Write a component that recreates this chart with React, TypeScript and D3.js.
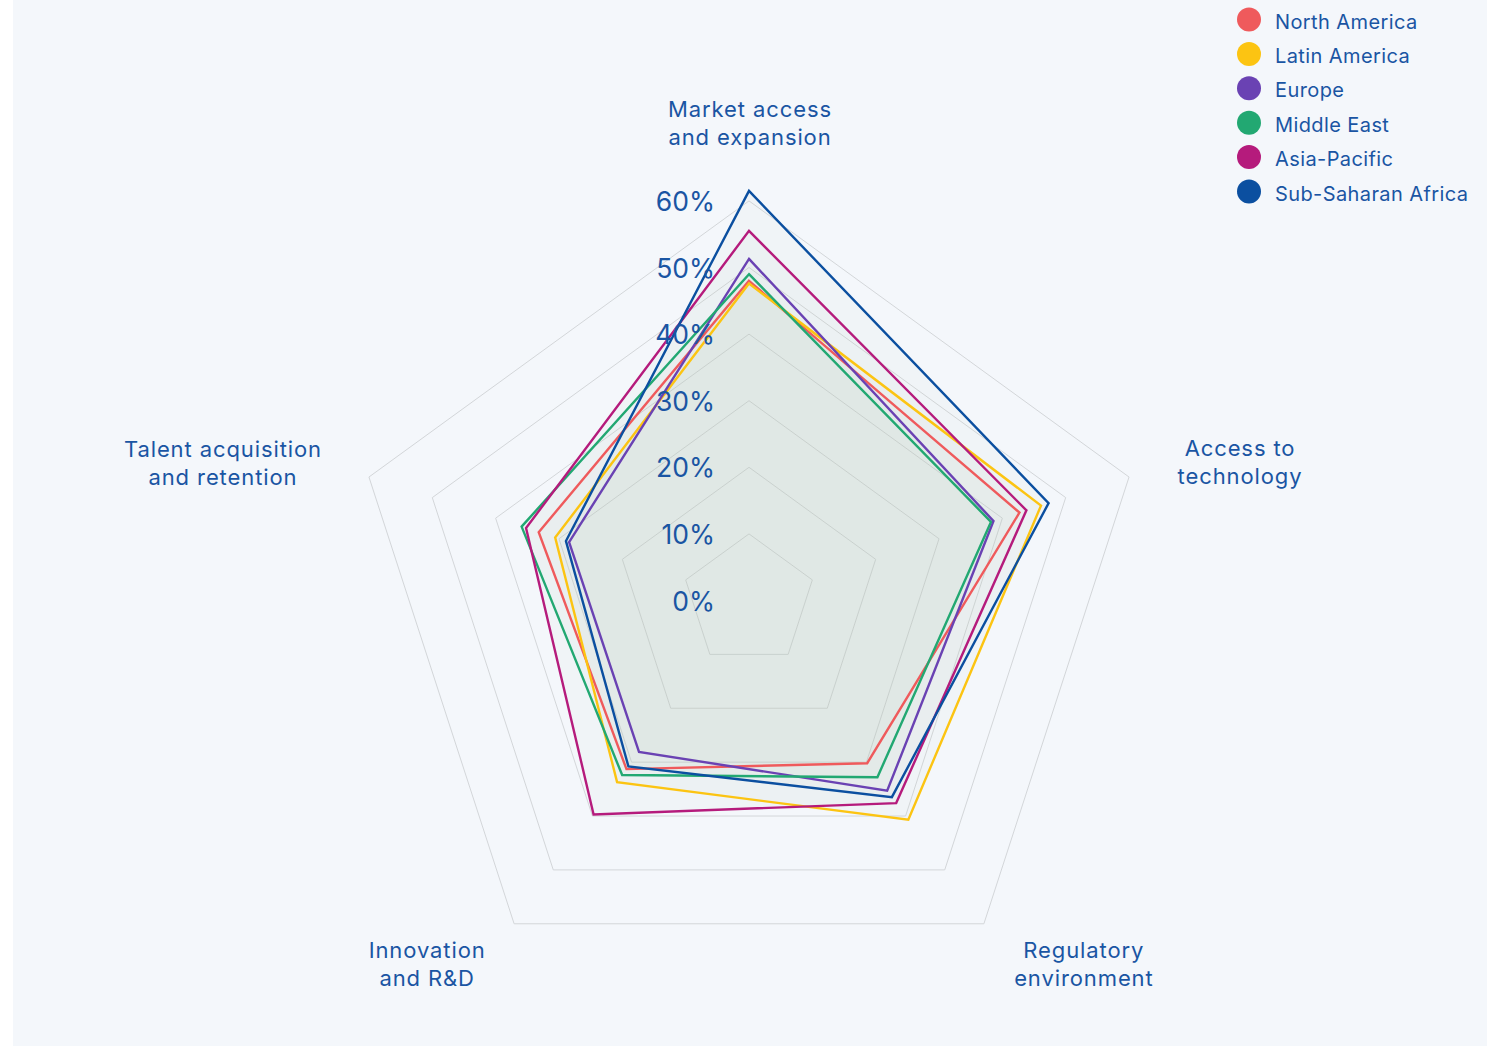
import React from "react";
import * as d3 from "d3";

const axes = [
  ["Market access", "and expansion"],
  ["Access to", "technology"],
  ["Regulatory", "environment"],
  ["Innovation", "and R&D"],
  ["Talent acquisition", "and retention"],
];

const seriesNames = [
  "North America",
  "Latin America",
  "Europe",
  "Middle East",
  "Asia-Pacific",
  "Sub-Saharan Africa",
];

const northAmerica = [48.0, 42.7, 30.2, 31.3, 33.2];
const latinAmerica = [47.6, 46.1, 40.7, 33.7, 30.6];
const europe = [51.3, 38.6, 35.3, 28.1, 28.4];
const middleEast = [49.0, 38.2, 32.8, 32.4, 35.9];
const asiaPacific = [55.5, 43.8, 37.6, 39.7, 35.2];
const subSaharanAfrica = [61.5, 47.3, 36.5, 30.8, 28.9];

const seriesValues = [northAmerica, latinAmerica, europe, middleEast, asiaPacific, subSaharanAfrica];

const tickValues = [0, 10, 20, 30, 40, 50, 60];

// styling / layout
const colors = ["#ef5a5c", "#fcc412", "#6a42b3", "#22a872", "#b51b7c", "#0b4fa0"];
const W = 1497;
const H = 1046;
const CX = 749;
const CY = 600.5;
const R_MAX = 399.6;
const TEXT = "#1a55a3";
const FONT = "Inter, 'Noto Sans', sans-serif";
const labelOffsets: [number, number][] = [
  [1, -84],
  [111, -21],
  [100, 34],
  [-87, 34],
  [-146, -20],
];

export default function App() {
  const r = d3.scaleLinear().domain([0, 60]).range([0, R_MAX]);
  const angle = d3
    .scalePoint<number>()
    .domain(d3.range(axes.length))
    .range([0, (2 * Math.PI * (axes.length - 1)) / axes.length]);

  const polar = (i: number, v: number) => {
    const a = angle(i)!;
    return [Math.sin(a) * r(v), -Math.cos(a) * r(v)];
  };

  const radial = d3
    .lineRadial<number>()
    .angle((_, i) => angle(i)!)
    .radius((d) => r(d))
    .curve(d3.curveLinearClosed);

  const gridLevels = tickValues.filter((t) => t > 0);

  return (
    <svg
      width={W}
      height={H}
      style={{ position: "absolute", left: 0, top: 0, display: "block" }}
      fontFamily={FONT}
    >
      <rect x={13} y={0} width={1474} height={H} fill="#f4f7fb" />
      <g transform={`translate(${CX},${CY})`}>
        {gridLevels.map((t) => (
          <path
            key={t}
            d={radial(axes.map(() => t)) || ""}
            fill="none"
            stroke="#d3d6d9"
            strokeWidth={1}
          />
        ))}
        {seriesValues.map((vals, si) => (
          <path
            key={"f" + si}
            d={radial(vals) || ""}
            fill="rgb(194,212,184)"
            fillOpacity={0.06}
            stroke="none"
          />
        ))}
        {seriesValues.map((vals, si) => (
          <path
            key={"s" + si}
            d={radial(vals) || ""}
            fill="none"
            stroke={colors[si]}
            strokeWidth={2.4}
            strokeLinejoin="miter"
          />
        ))}
        {tickValues.map((t) => (
          <text
            key={"t" + t}
            x={-34}
            y={-r(t) + 10}
            textAnchor="end"
            fontSize={26.5}
            fill={TEXT}
          >
            {t}%
          </text>
        ))}
        {axes.map((lines, i) => {
          const [px, py] = polar(i, 60);
          const [dx, dy] = labelOffsets[i];
          return (
            <text
              key={"a" + i}
              textAnchor="middle"
              fontSize={22}
              letterSpacing={0.9}
              fill={TEXT}
            >
              {lines.map((ln, k) => (
                <tspan key={k} x={px + dx} y={py + dy + k * 28}>
                  {ln}
                </tspan>
              ))}
            </text>
          );
        })}
      </g>
      <g>
        {seriesNames.map((name, i) => (
          <g key={name} transform={`translate(1249,${19.5 + i * 34.4})`}>
            <circle r={12} fill={colors[i]} />
            <text x={26} y={9} fontSize={20} letterSpacing={0.4} fill={TEXT}>
              {name}
            </text>
          </g>
        ))}
      </g>
    </svg>
  );
}
